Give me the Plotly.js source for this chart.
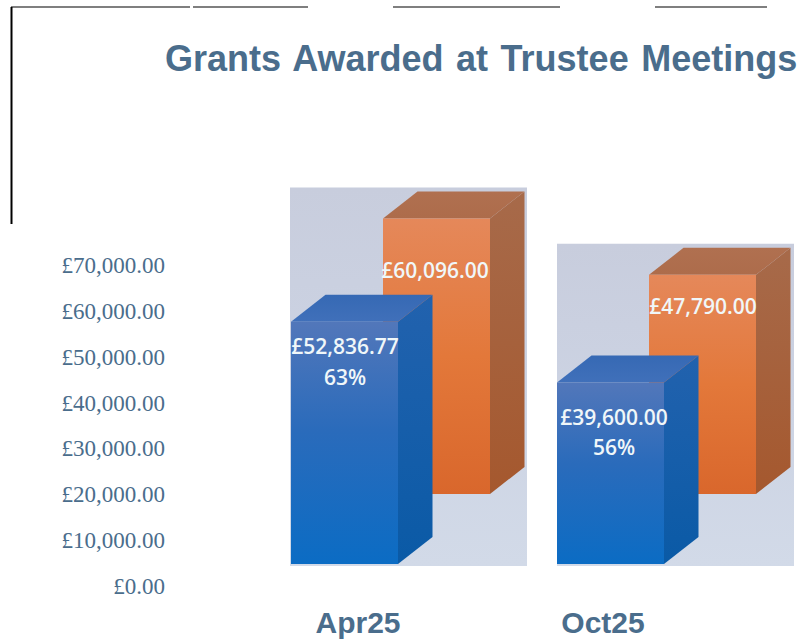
<!DOCTYPE html>
<html>
<head>
<meta charset="utf-8">
<script src="https://cdn.plot.ly/plotly-3.0.1.min.js"></script>
<style>html,body{margin:0;padding:0;background:#fff}#chart{width:798px;height:642px}.gtitle{word-spacing:2.5px}</style>
</head>
<body>
<div id="chart"></div>
<script>
// ---- data ----
const categories = ["Apr25", "Oct25"];
const blueValues = [52836.77, 39600.00];
const orangeValues = [60096.00, 47790.00];
const bluePercents = [63, 56];
const yTickValues = [0, 10000, 20000, 30000, 40000, 50000, 60000, 70000];
const titleText = "Grants Awarded at Trustee Meetings";

// ---- projection & layout constants (pixels / axis units) ----
const W = 798, H = 642;
const PX_PER_UNIT = 321 / 70000;      // value scale
const BASE_PX = 564;                  // y pixel of value 0 for the bars
const yRange = [(BASE_PX - H) / PX_PER_UNIT, BASE_PX / PX_PER_UNIT];
const DX = 34.5, DY = 27 / PX_PER_UNIT; // 3-D depth
const BACK_LIFT = 70 / PX_PER_UNIT;   // rear row floor lift
const PANEL_X = [290, 557], PANEL_W = 237;
const BLUE_X = [291, 557], ORANGE_X = [383, 649], BAR_W = 107;
const CATEGORY_TICK_X = [358, 603];
const BLUE_LABEL_DROP = [27, 37], BLUE_PCT_DROP = [58, 67], ORANGE_LABEL_DROP = [54, 34];
const BLUE_LABEL_X = [345, 614], ORANGE_LABEL_X = [435, 703];

const money = v => "£" + v.toLocaleString("en-GB", {minimumFractionDigits: 2, maximumFractionDigits: 2});
const drop = px => px / PX_PER_UNIT;

function face(xs, ys, scale, bottom, top) {
  return {
    type: "scatter", mode: "lines", x: xs, y: ys, fill: "toself",
    line: {width: 0, color: "rgba(0,0,0,0)"},
    fillgradient: {type: "vertical", start: bottom, stop: top, colorscale: scale},
    hoverinfo: "skip", showlegend: false
  };
}
function box(x0, base, v, pal) {
  const x1 = x0 + BAR_W, t = base + v;
  return [
    face([x1, x1 + DX, x1 + DX, x1, x1], [base, base + DY, t + DY, t, base], pal.side, base, t + DY),
    face([x0, x0 + DX, x1 + DX, x1, x0], [t, t + DY, t + DY, t, t], pal.top, t, t + DY),
    face([x0, x1, x1, x0, x0], [base, base, t, t, base], pal.front, base, t)
  ];
}
const ORANGE = {
  front: [[0, "#d9672c"], [0.5, "#e3783a"], [1, "#e5885a"]],
  side: [[0, "#a5582e"], [1, "#a76a4a"]],
  top: [[0, "#ad6c4b"], [1, "#b07050"]]
};
const BLUE = {
  front: [[0, "#0b6cc4"], [0.55, "#2a6bbb"], [1, "#5277ba"]],
  side: [[0, "#0a5aa6"], [1, "#2262ae"]],
  top: [[0, "#4070ba"], [1, "#3669b4"]]
};
const PANEL = [[0, "#d2dae8"], [0.5, "#ccd3e3"], [1, "#c8cddd"]];

const traces = [];
categories.forEach((c, i) => {
  const floor = -2 / PX_PER_UNIT;
  const top = BACK_LIFT + orangeValues[i] + DY + drop(4);
  const x0 = PANEL_X[i];
  traces.push(face([x0, x0 + PANEL_W, x0 + PANEL_W, x0, x0], [floor, floor, top, top, floor], PANEL, floor, top));
  traces.push(...box(ORANGE_X[i], BACK_LIFT, orangeValues[i], ORANGE));
  traces.push(...box(BLUE_X[i], 0, blueValues[i], BLUE));
});
const textFont = {family: "Open Sans, Noto Sans, sans-serif", size: 21, weight: 600, color: "#f0f7f9"};
traces.push({
  type: "scatter", mode: "text", hoverinfo: "skip", showlegend: false, textfont: textFont, textposition: "middle center",
  x: BLUE_LABEL_X, y: blueValues.map((v, i) => v - drop(BLUE_LABEL_DROP[i])), text: blueValues.map(money)
});
traces.push({
  type: "scatter", mode: "text", hoverinfo: "skip", showlegend: false, textfont: textFont, textposition: "middle center",
  x: BLUE_LABEL_X, y: blueValues.map((v, i) => v - drop(BLUE_PCT_DROP[i])), text: bluePercents.map(p => p + "%")
});
traces.push({
  type: "scatter", mode: "text", hoverinfo: "skip", showlegend: false, textfont: textFont, textposition: "middle center",
  x: ORANGE_LABEL_X, y: orangeValues.map((v, i) => BACK_LIFT + v - drop(ORANGE_LABEL_DROP[i])), text: orangeValues.map(money)
});

const TITLE_COLOR = "#4a6d8c";
const frameLine = (x0, y0, x1, y1, color, w) => ({
  type: "line", xref: "paper", yref: "paper", x0: x0 / W, x1: x1 / W, y0: 1 - y0 / H, y1: 1 - y1 / H, line: {color, width: w}
});
const layout = {
  width: W, height: H, margin: {l: 0, r: 0, t: 0, b: 0, pad: 0},
  paper_bgcolor: "#fff", plot_bgcolor: "#fff", showlegend: false, hovermode: false,
  title: {
    text: titleText, x: 165 / W, xanchor: "left", xref: "paper", y: 1 - 58 / H, yanchor: "middle", yref: "paper",
    font: {family: "Liberation Sans, Arial, sans-serif", size: 36, weight: 700, color: TITLE_COLOR}
  },
  xaxis: {
    range: [0, W], domain: [0, 1], anchor: "free", position: 1 - 602 / H, fixedrange: true,
    showgrid: false, zeroline: false, showline: false, ticks: "",
    tickmode: "array", tickvals: CATEGORY_TICK_X, ticktext: categories,
    tickfont: {family: "Liberation Sans, Arial, sans-serif", size: 30, weight: 700, color: TITLE_COLOR}
  },
  yaxis: {
    range: yRange, domain: [0, 1], anchor: "free", position: 165 / W, fixedrange: true,
    showgrid: false, zeroline: false, showline: false, ticks: "",
    tickmode: "array", tickvals: yTickValues, ticktext: yTickValues.map(money),
    ticklabelshift: 22,
    tickfont: {family: "Liberation Serif, Times New Roman, serif", size: 23, color: TITLE_COLOR}
  },
  shapes: [
    frameLine(11, 7, 190, 7, "#555", 1.5),
    frameLine(193, 7, 308, 7, "#555", 1.5),
    frameLine(393, 7, 560, 7, "#555", 1.5),
    frameLine(655, 7, 767, 7, "#555", 1.5),
    frameLine(11.5, 7, 11.5, 224, "#000", 2)
  ]
};
Plotly.newPlot("chart", traces, layout, {displayModeBar: false, staticPlot: true});
</script>
</body>
</html>
